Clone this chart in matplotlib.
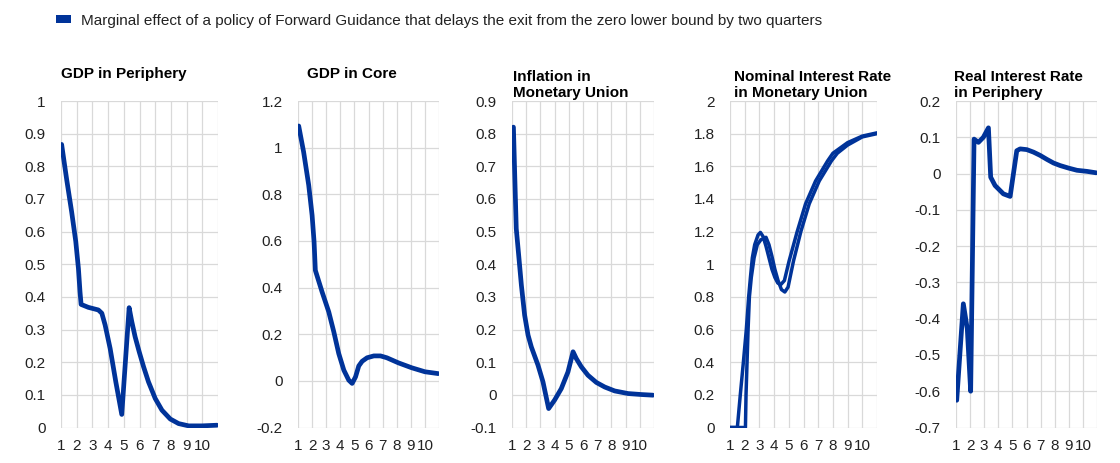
import matplotlib
matplotlib.use('Agg')
import matplotlib.pyplot as plt
from matplotlib.patches import Patch
import numpy as np

plt.rcParams['font.family'] = ['Liberation Sans', 'DejaVu Sans']

BLUE = '#003399'
GRID = '#d9d9d9'

legend_label = ('Marginal effect of a policy of Forward Guidance that delays '
                'the exit from the zero lower bound by two quarters')

# GDP in Periphery
gdp_p_x = [1.04, 1.36, 1.68, 1.94, 2.11, 2.21, 2.28, 2.74, 3.38, 3.6, 3.81,
           4.13, 4.49, 4.87, 5.34, 5.51, 5.72, 5.98, 6.26, 6.57, 7.0, 7.43,
           7.96, 8.49, 9.13, 9.98, 10.94]
gdp_p_y = [0.867, 0.76, 0.66, 0.57, 0.487, 0.416, 0.377, 0.368, 0.36, 0.35,
           0.314, 0.242, 0.14, 0.04, 0.367, 0.324, 0.278, 0.232, 0.186, 0.14,
           0.089, 0.053, 0.026, 0.012, 0.005, 0.005, 0.007]

# GDP in Core
gdp_c_x = [1.05, 1.4, 1.76, 2.0, 2.14, 2.23, 2.71, 3.18, 3.54, 3.89, 4.25,
           4.6, 4.84, 5.08, 5.31, 5.55, 5.9, 6.38, 6.85, 7.3, 8.13, 9.07,
           10.0, 10.95]
gdp_c_y = [1.093, 0.981, 0.839, 0.71, 0.596, 0.474, 0.381, 0.296, 0.21,
           0.117, 0.046, 0.003, -0.011, 0.017, 0.064, 0.084, 0.099, 0.107,
           0.107, 0.099, 0.077, 0.056, 0.039, 0.031]

# Inflation in Monetary Union
infl_x = [1.1, 1.2, 1.3, 1.47, 1.66, 1.89, 2.13, 2.36, 2.83, 3.18, 3.58, 4.0,
          4.47, 4.94, 5.3, 5.53, 5.88, 6.35, 6.94, 7.53, 8.23, 9.17, 10.1,
          10.93]
infl_y = [0.82, 0.662, 0.509, 0.428, 0.336, 0.244, 0.183, 0.147, 0.091, 0.04,
          -0.042, -0.016, 0.019, 0.07, 0.132, 0.111, 0.086, 0.06, 0.038,
          0.024, 0.012, 0.004, 0.001, -0.001]

# Nominal Interest Rate in Monetary Union (two runs)
nom_a_x = [1.0, 1.5, 1.7, 1.91, 2.11, 2.27, 2.39, 2.52, 2.68, 2.91, 3.07,
           3.25, 3.45, 3.65, 3.85, 4.05, 4.25, 4.45, 4.7, 5.02, 5.57, 6.14,
           6.82, 7.64, 8.0, 9.0, 10.0, 11.0]
nom_a_y = [0.0, 0.0, 0.2, 0.4, 0.6, 0.8, 0.92, 1.04, 1.12, 1.18, 1.195, 1.17,
           1.11, 1.04, 0.97, 0.92, 0.885, 0.875, 0.9, 1.02, 1.2, 1.37, 1.51,
           1.633, 1.68, 1.745, 1.785, 1.805]
nom_b_x = [1.0, 2.05, 2.09, 2.16, 2.23, 2.32, 2.45, 2.64, 2.86, 3.1, 3.45,
           3.65, 3.85, 4.05, 4.27, 4.5, 4.73, 4.95, 5.32, 5.82, 6.39, 7.07,
           7.9, 8.3, 9.0, 10.0, 11.0]
nom_b_y = [0.0, 0.0, 0.2, 0.4, 0.6, 0.8, 0.92, 1.04, 1.12, 1.15, 1.165,
           1.12, 1.05, 0.97, 0.9, 0.845, 0.83, 0.86, 1.02, 1.2, 1.37, 1.51,
           1.633, 1.68, 1.73, 1.78, 1.8]

# Real Interest Rate in Periphery
real_x = [1.05, 1.52, 1.8, 2.04, 2.28, 2.59, 2.94, 3.3, 3.46, 3.77, 4.36,
          4.84, 5.31, 5.55, 6.02, 6.5, 6.97, 7.45, 7.92, 8.39, 8.99, 9.58,
          10.29, 10.95]
real_y = [-0.625, -0.359, -0.428, -0.6, 0.095, 0.086, 0.1, 0.126, -0.01,
          -0.033, -0.056, -0.063, 0.063, 0.068, 0.066, 0.059, 0.05, 0.039,
          0.029, 0.022, 0.015, 0.009, 0.006, 0.002]

titles = ['GDP in Periphery', 'GDP in Core', 'Inflation in\nMonetary Union',
          'Nominal Interest Rate\nin Monetary Union',
          'Real Interest Rate\nin Periphery']
series = [[(gdp_p_x, gdp_p_y)],
          [(gdp_c_x, gdp_c_y)],
          [(infl_x, infl_y)],
          [(nom_a_x, nom_a_y), (nom_b_x, nom_b_y)],
          [(real_x, real_y)]]
ylims = [(0, 1.0, 0.1), (-0.2, 1.2, 0.2), (-0.1, 0.9, 0.1), (0, 2.0, 0.2),
         (-0.7, 0.2, 0.1)]
x_ticks = list(range(1, 12))
x_labels = [str(i) for i in range(1, 11)] + ['']

W, H = 1120, 463
# panel edges in pixels: left, right, title left
panels_px = [(61, 218, 61), (298, 439, 307), (512, 654, 513),
             (730, 877, 734), (956, 1097, 954)]
top_px, bottom_px = 101, 427.5

fig = plt.figure(figsize=(W / 100, H / 100), dpi=100)

for i in range(5):
    l, r, tl = panels_px[i]
    ax = fig.add_axes([l / W, 1 - bottom_px / H, (r - l) / W,
                       (bottom_px - top_px) / H])
    lw = 3.4 if len(series[i]) == 1 else 2.5
    for xs, ys in series[i]:
        ax.plot(xs, ys, color=BLUE, lw=lw, solid_capstyle='round',
                solid_joinstyle='round', zorder=3)
    lo, hi, step = ylims[i]
    yt = np.round(np.arange(lo, hi + step / 2, step), 2)
    ax.set_ylim(lo, hi)
    ax.set_yticks(yt)
    ax.set_yticklabels(['{:g}'.format(v) if abs(v) > 1e-9 else '0' for v in yt])
    ax.set_xlim(1, 11)
    ax.set_xticks(x_ticks)
    ax.set_xticklabels(x_labels)
    ax.grid(True, color=GRID, lw=0.9, zorder=0)
    ax.set_axisbelow(True)
    for s in ax.spines.values():
        s.set_visible(False)
    ax.tick_params(length=0, labelsize=11, colors='#222222')
    ax.tick_params(axis='y', pad=11)
    ax.tick_params(axis='x', pad=8.3)
    # first title line sits on a fixed baseline, further lines go below it
    nlines = titles[i].count('\n') + 1
    base = 78.3 + 19 * (nlines - 1)
    fig.text(tl / W, 1 - base / H, titles[i], fontsize=11, fontweight='bold',
             ha='left', va='baseline', linespacing=1.2)

handle = Patch(facecolor=BLUE, edgecolor='none')
fig.legend([handle], [legend_label], loc='center left',
           bbox_to_anchor=(56 / W, 1 - 20.5 / H), frameon=False, fontsize=11,
           handlelength=1.0, handleheight=0.35, handletextpad=0.65,
           borderpad=0, borderaxespad=0, labelcolor='#222222')

fig.savefig('out.png', dpi=100)
